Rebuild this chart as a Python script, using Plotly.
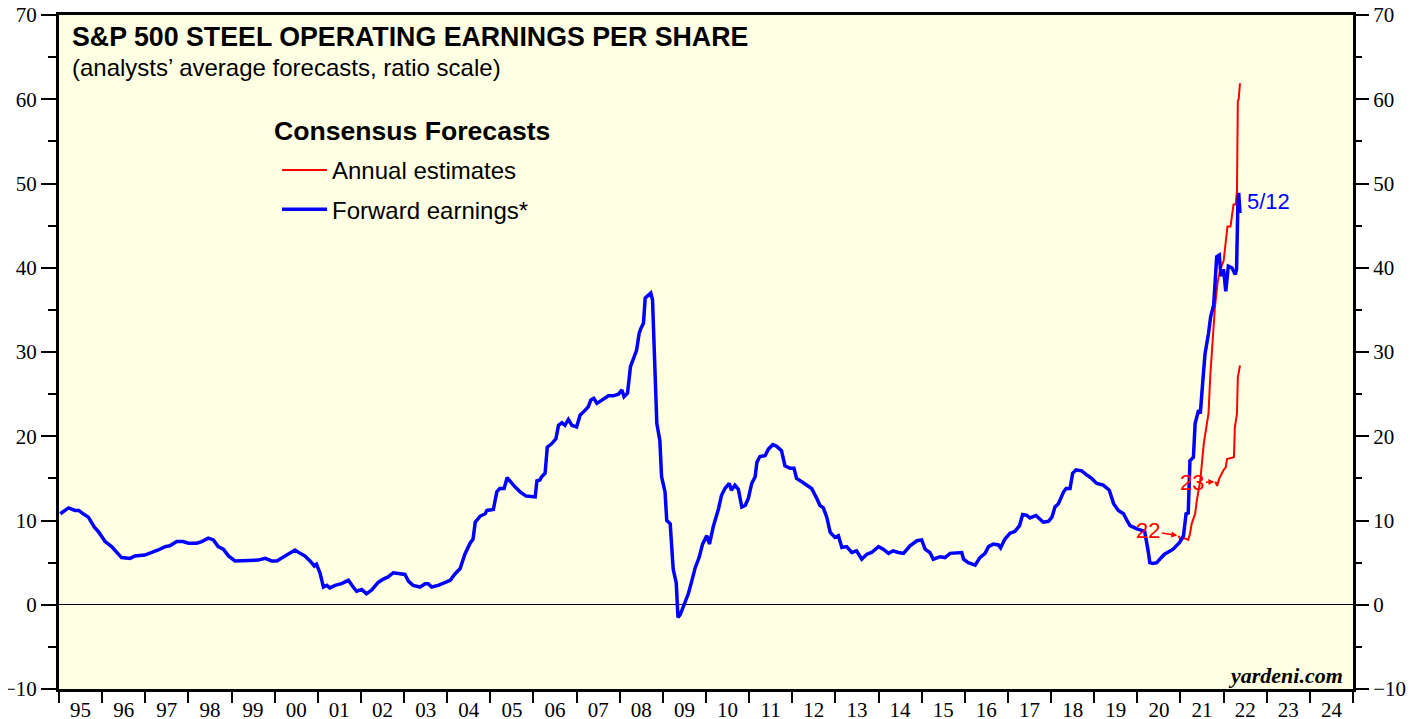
import plotly.graph_objects as go

# ---------------- data ----------------
years_fwd = [
    1995.03, 1995.22, 1995.37, 1995.46, 1995.56, 1995.68, 1995.74, 1995.82, 1995.91,
    1996.07, 1996.22, 1996.34, 1996.45, 1996.65, 1996.76, 1996.99,
    1997.15, 1997.30, 1997.46, 1997.57, 1997.73, 1997.88,
    1998.00, 1998.19, 1998.31, 1998.46, 1998.58, 1998.69, 1998.81, 1998.93,
    1999.08, 1999.24, 1999.47, 1999.62, 1999.78, 1999.93,
    2000.05, 2000.24, 2000.40, 2000.47, 2000.59, 2000.70, 2000.82, 2000.92, 2000.97,
    2001.05, 2001.13, 2001.21, 2001.28, 2001.40, 2001.55, 2001.71, 2001.82, 2001.90,
    2002.02, 2002.13, 2002.25, 2002.40, 2002.52, 2002.63, 2002.75, 2002.87,
    2003.02, 2003.10, 2003.21, 2003.37, 2003.49, 2003.56, 2003.64, 2003.79, 2003.95,
    2004.07, 2004.18, 2004.30, 2004.41, 2004.53, 2004.60, 2004.65, 2004.76, 2004.88, 2004.92,
    2005.07, 2005.15, 2005.22, 2005.32, 2005.39, 2005.57, 2005.69, 2005.83, 2005.96,
    2006.04, 2006.08, 2006.15, 2006.19, 2006.27, 2006.32, 2006.42, 2006.52, 2006.58,
    2006.66, 2006.73, 2006.81, 2006.89,
    2007.00, 2007.08, 2007.20, 2007.27, 2007.33, 2007.40, 2007.47, 2007.58, 2007.74,
    2007.85, 2007.97,
    2008.05, 2008.10, 2008.18, 2008.25, 2008.39, 2008.45, 2008.49, 2008.55, 2008.59,
    2008.66, 2008.72, 2008.76, 2008.82, 2008.86, 2008.93, 2008.97,
    2009.05, 2009.09, 2009.17, 2009.24, 2009.31, 2009.35, 2009.40, 2009.44, 2009.51,
    2009.59, 2009.67, 2009.75, 2009.84, 2009.92,
    2010.02, 2010.08, 2010.17, 2010.29, 2010.36, 2010.44, 2010.54, 2010.59, 2010.67,
    2010.75, 2010.83, 2010.91, 2010.98,
    2011.06, 2011.14, 2011.18, 2011.25, 2011.37, 2011.45, 2011.55, 2011.64, 2011.75,
    2011.83, 2011.95,
    2012.04, 2012.10, 2012.22, 2012.33, 2012.45, 2012.57, 2012.64, 2012.72, 2012.80,
    2012.88, 2012.99,
    2013.07, 2013.15, 2013.26, 2013.38, 2013.49, 2013.61, 2013.73, 2013.84,
    2014.00, 2014.11, 2014.23, 2014.34, 2014.46, 2014.58, 2014.73, 2014.89,
    2015.00, 2015.08, 2015.19, 2015.27, 2015.43, 2015.54, 2015.66, 2015.81, 2015.93, 2015.97,
    2016.08, 2016.24, 2016.35, 2016.47, 2016.55, 2016.66, 2016.78, 2016.83, 2016.93,
    2017.05, 2017.16, 2017.27, 2017.34, 2017.44, 2017.51, 2017.65, 2017.73, 2017.82, 2017.94,
    2018.02, 2018.09, 2018.17, 2018.29, 2018.35, 2018.44, 2018.50, 2018.58, 2018.71,
    2018.83, 2018.94,
    2019.06, 2019.21, 2019.35, 2019.45, 2019.56, 2019.68, 2019.76, 2019.83, 2019.99,
    2020.10, 2020.17, 2020.25, 2020.29, 2020.36, 2020.45, 2020.52, 2020.63, 2020.83, 2020.98,
    2021.07, 2021.13, 2021.18, 2021.22, 2021.30, 2021.34, 2021.42, 2021.46, 2021.52,
    2021.57, 2021.65, 2021.70, 2021.77, 2021.81, 2021.84, 2021.90, 2021.94,
    2022.00, 2022.05, 2022.11, 2022.19, 2022.27, 2022.30, 2022.33, 2022.35, 2022.38,
]
fwd_eps = [
    10.8, 11.5, 11.2, 11.2, 10.8, 10.4, 9.9, 9.2, 8.7,
    7.5, 6.9, 6.2, 5.6, 5.5, 5.8, 5.9,
    6.2, 6.5, 6.9, 7.0, 7.5, 7.5,
    7.3, 7.3, 7.5, 7.9, 7.7, 6.9, 6.6, 5.8,
    5.2, 5.2, 5.2, 5.3, 5.5, 5.2,
    5.2, 5.8, 6.4, 6.5, 6.1, 5.8, 5.2, 4.6, 4.8,
    3.8, 2.1, 2.3, 2.0, 2.3, 2.5, 2.9, 2.1, 1.6,
    1.8, 1.3, 1.75, 2.65, 3.05, 3.3, 3.8, 3.7,
    3.6, 2.8, 2.3, 2.1, 2.5, 2.5, 2.1, 2.3, 2.65,
    2.9, 3.65, 4.3, 6.0, 7.3, 7.8, 9.8, 10.5, 10.8, 11.2,
    11.3, 13.4, 13.8, 13.8, 15.1, 14.0, 13.4, 12.9, 12.9,
    12.8, 14.7, 14.8, 15.2, 15.6, 18.7, 19.1, 19.7, 21.3,
    21.6, 21.3, 22.0, 21.3,
    21.1, 22.5, 23.1, 23.5, 24.3, 24.5, 23.9, 24.3, 24.8,
    24.8, 25.0,
    25.5, 24.7, 25.1, 28.3, 30.2, 32.2, 32.8, 33.4, 36.4,
    36.8, 37.0, 36.2, 27.9, 21.5, 19.5, 15.2,
    13.4, 10.0, 9.6, 4.2, 2.6, -1.5, -1.2, -0.7, 0.1,
    1.3, 2.8, 4.4, 5.6, 7.2,
    8.2, 7.2, 9.3, 11.4, 13.0, 13.8, 14.4, 13.6, 14.2,
    13.7, 11.6, 11.8, 12.6,
    14.4, 15.2, 16.9, 17.6, 17.7, 18.5, 19.0, 18.8, 18.3,
    16.5, 16.2,
    16.2, 15.0, 14.6, 14.2, 13.8, 12.6, 11.8, 11.5, 10.4,
    8.6, 8.0,
    8.2, 6.8, 6.9, 6.2, 6.4, 5.4, 6.0, 6.2,
    6.9, 6.6, 6.1, 6.4, 6.2, 6.1, 7.0, 7.6,
    7.7, 6.6, 6.2, 5.4, 5.7, 5.6, 6.1, 6.2, 6.2, 5.4,
    5.0, 4.7, 5.6, 6.1, 6.9, 7.2, 7.1, 6.75, 7.8,
    8.5, 8.7, 9.4, 10.7, 10.6, 10.3, 10.6, 10.2, 9.8, 9.9,
    10.4, 11.6, 12.0, 13.4, 13.8, 13.8, 15.6, 16.0, 15.9,
    15.4, 15.0,
    14.4, 14.2, 13.6, 12.0, 11.2, 10.8, 10.0, 9.4, 9.0,
    8.8, 8.7, 6.4, 5.0, 4.9, 5.0, 5.4, 6.0, 6.6, 7.4,
    8.2, 10.8, 10.9, 17.1, 17.5, 21.5, 23.1, 22.7, 26.7,
    29.8, 32.2, 34.2, 35.6, 38.6, 41.3, 41.5, 39.0,
    39.8, 37.2, 40.2, 40.0, 39.2, 39.8, 47.3, 48.9, 46.5,
]

years_est22 = [
    2020.95, 2021.00, 2021.10, 2021.18, 2021.22, 2021.26, 2021.34, 2021.38, 2021.46,
    2021.50, 2021.54, 2021.60, 2021.65, 2021.69, 2021.72, 2021.76, 2021.80, 2021.86,
    2021.92, 2022.00, 2022.09, 2022.16, 2022.19, 2022.23, 2022.28, 2022.31, 2022.33,
    2022.35, 2022.38,
]
est22 = [
    8.2, 7.8, 7.9, 7.7, 8.4, 9.6, 10.8, 12.4, 14.8,
    16.7, 19.1, 21.1, 22.7, 27.1, 29.4, 33.4, 35.4, 38.2,
    39.8, 40.8, 44.9, 44.9, 46.3, 47.5, 47.5, 49.1, 59.8,
    60.0, 61.9,
]

years_est23 = [
    2021.81, 2021.85, 2021.90, 2021.95, 2022.00, 2022.05, 2022.08, 2022.15, 2022.24,
    2022.26, 2022.29, 2022.31, 2022.33, 2022.36, 2022.38,
]
est23 = [
    14.6, 14.1, 15.0, 15.5, 16.0, 16.3, 17.3, 17.4, 17.5,
    21.0, 22.0, 22.7, 27.0, 27.7, 28.4,
]

year_bounds = [1995, 1996, 1997, 1998, 1999, 2000, 2001, 2002, 2003, 2004, 2005,
               2006, 2007, 2008, 2009, 2010, 2011, 2012, 2013, 2014, 2015, 2016,
               2017, 2018, 2019, 2020, 2021, 2022, 2023, 2024, 2025]
year_labels = ['95', '96', '97', '98', '99', '00', '01', '02', '03', '04', '05',
               '06', '07', '08', '09', '10', '11', '12', '13', '14', '15', '16',
               '17', '18', '19', '20', '21', '22', '23', '24']
label_positions = [y + 0.5 for y in year_bounds[:-1]]

# ---------------- styling ----------------
SERIF = "Liberation Serif, Times New Roman, serif"
SANS = "Liberation Sans, Arial, sans-serif"
RED = "#FF0000"
BLUE = "#0000FF"

# The page body has an 8px margin, so the figure is drawn 8px in from the
# top-left of the window.  Figure size / margins chosen so the plot area
# lands on screen at x 59..1353, y 15..689.
PAGE_OFF = 8
W, H = 1419 - PAGE_OFF, 719 - PAGE_OFF
L, R, T, B = 59 - PAGE_OFF, 66, 15 - PAGE_OFF, 30
SCR_LEFT, SCR_BOTTOM = 59, 689
PW, PH = 1294, 674


def px_x(x):
    """screen pixel x -> paper fraction"""
    return (x - SCR_LEFT) / PW


def px_y(y):
    """screen pixel y -> paper fraction"""
    return (SCR_BOTTOM - y) / PH


fig = go.Figure()

fig.add_trace(go.Scatter(
    x=years_est22, y=est22, mode="lines", name="Annual estimates",
    line=dict(color=RED, width=2), legendgroup="est",
))
fig.add_trace(go.Scatter(
    x=years_est23, y=est23, mode="lines", name="Annual estimates",
    line=dict(color=RED, width=2), legendgroup="est", showlegend=False,
))
fig.add_trace(go.Scatter(
    x=years_fwd, y=fwd_eps, mode="lines", name="Forward earnings*",
    line=dict(color=BLUE, width=3.5), legendgroup="fwd",
))
# invisible trace to carry the right-hand axis
fig.add_trace(go.Scatter(
    x=[years_fwd[0]], y=[fwd_eps[0]], yaxis="y2", mode="lines",
    line=dict(color="rgba(0,0,0,0)"), showlegend=False, hoverinfo="skip",
))

yaxis_common = dict(
    range=[-10, 70], tick0=0, dtick=10, ticks="outside", ticklen=15, tickwidth=2,
    tickcolor="black", tickfont=dict(family=SERIF, size=21, color="black"),
    showgrid=False, automargin=False, ticklabeloverflow="allow",
    minor=dict(dtick=5, tick0=0, ticks="outside", ticklen=8, tickwidth=2,
               tickcolor="black", showgrid=False),
)

fig.update_layout(
    width=W, height=H,
    margin=dict(l=L, r=R, t=T, b=B, autoexpand=False),
    paper_bgcolor="white",
    plot_bgcolor="#FFFFE3",
    showlegend=True,
    legend=dict(
        x=px_x(277), y=px_y(148), xanchor="left", yanchor="top",
        bgcolor="rgba(0,0,0,0)", borderwidth=0,
        font=dict(family=SANS, size=24, color="black"),
        tracegroupgap=5, itemwidth=45, traceorder="grouped",
    ),
    xaxis=dict(
        range=[1995, 2025], tickmode="array", tickvals=label_positions,
        ticktext=year_labels, ticks="", showgrid=False, zeroline=False,
        automargin=False, ticklabeloverflow="allow",
        tickfont=dict(family=SERIF, size=21, color="black"),
        showline=True, linewidth=3, linecolor="black", mirror=True,
        minor=dict(tickmode="array", tickvals=year_bounds, ticks="outside",
                   ticklen=11, tickwidth=2, tickcolor="black", showgrid=False),
    ),
    yaxis=dict(
        **yaxis_common,
        showline=True, linewidth=3, linecolor="black", mirror=True,
        zeroline=True, zerolinecolor="black", zerolinewidth=1,
    ),
    yaxis2=dict(
        **yaxis_common,
        overlaying="y", side="right", showline=False, zeroline=False,
    ),
)

annotations = [
    dict(text="<b>S&P 500 STEEL OPERATING EARNINGS PER SHARE</b>",
         xref="paper", yref="paper", x=px_x(70), y=px_y(37),
         xanchor="left", yanchor="middle", showarrow=False,
         font=dict(family=SANS, size=26.75, color="black")),
    dict(text="(analysts’ average forecasts, ratio scale)",
         xref="paper", yref="paper", x=px_x(70), y=px_y(67),
         xanchor="left", yanchor="middle", showarrow=False,
         font=dict(family=SANS, size=24, color="black")),
    dict(text="<b>Consensus Forecasts</b>",
         xref="paper", yref="paper", x=px_x(272), y=px_y(131),
         xanchor="left", yanchor="middle", showarrow=False,
         font=dict(family=SANS, size=26.6, color="black")),
    dict(text="<b><i>yardeni.com</i></b>", xref="paper", yref="paper",
         x=px_x(1345), y=px_y(675), xanchor="right", yanchor="middle",
         showarrow=False, font=dict(family=SERIF, size=22, color="black")),
    dict(text="5/12", x=years_fwd[-1], y=fwd_eps[-1], xref="x", yref="y",
         xanchor="left", yanchor="middle", xshift=5, yshift=11, showarrow=False,
         font=dict(family=SANS, size=22, color=BLUE)),
    dict(text="22", x=years_est22[0], y=est22[0], xref="x", yref="y",
         showarrow=True, arrowhead=2, arrowsize=0.8, arrowwidth=1.5, arrowcolor=RED,
         ax=-30, ay=-5, standoff=1,
         font=dict(family=SANS, size=22, color=RED)),
    dict(text="23", x=years_est23[0], y=est23[0], xref="x", yref="y",
         showarrow=True, arrowhead=2, arrowsize=0.8, arrowwidth=1.5, arrowcolor=RED,
         ax=-23, ay=1, standoff=1,
         font=dict(family=SANS, size=22, color=RED)),
]
fig.update_layout(annotations=annotations)

fig.write_html("out.html")
